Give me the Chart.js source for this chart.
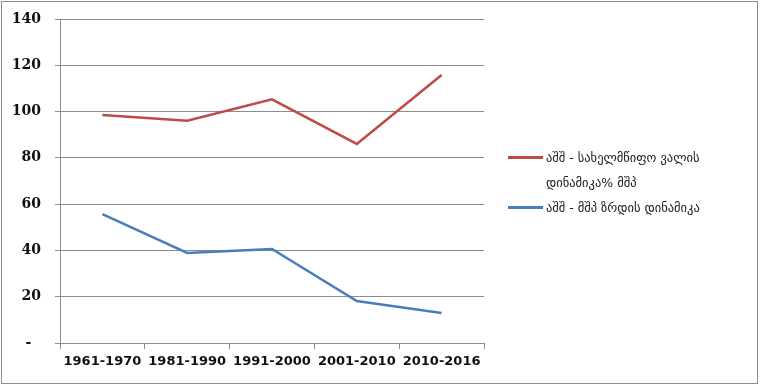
<!DOCTYPE html>
<html>
<head>
<meta charset="utf-8">
<script src="https://cdn.jsdelivr.net/npm/chart.js@4"></script>
<style>
  html, body { margin: 0; padding: 0; background: #fff; }
  #wrap { position: relative; width: 760px; height: 386px; }
  #frame { position: absolute; left: 1px; top: 1px; width: 755px; height: 381px; border: 1px solid #8c8c8c; pointer-events: none; }
  .legend { position: absolute; left: 508px; font-family: 'DejaVu Sans', sans-serif; font-size: 12.5px; color: #222; }
  .legend .row { position: relative; padding-left: 38px; line-height: 25px; }
  .legend .swatch { position: absolute; left: 0; top: 11px; width: 35px; height: 3px; }
</style>
</head>
<body>
<div id="wrap">
  <canvas id="chart"></canvas>
  <div id="frame"></div>
  <div class="legend" id="legend" style="top:145px"></div>
</div>
<script>
const categories = ['1961-1970', '1981-1990', '1991-2000', '2001-2010', '2010-2016'];
const debtSeries = [98.5, 96, 105.3, 86, 115.8];
const gdpSeries = [55.7, 38.9, 40.6, 18.1, 13];
const seriesNames = [['აშშ - სახელმწიფო ვალის', 'დინამიკა% მშპ'], ['აშშ - მშპ ზრდის დინამიკა']];
const seriesColors = ['#be4b48', '#4a7ebb'];

function buildLegend() {
    const box = document.getElementById('legend');
    seriesNames.forEach((lines, i) => {
        const row = document.createElement('div');
        row.className = 'row';
        row.innerHTML = `<span class="swatch" style="background:${seriesColors[i]}"></span>` + lines.join('<br>');
        box.appendChild(row);
    });
}

function initChart() {
    const el = document.getElementById('chart');
    new Chart(el, {
        type: 'line',
        data: {
            labels: categories,
            datasets: [
                { label: seriesNames[0].join(' '), data: debtSeries, borderColor: seriesColors[0], borderWidth: 2.5, pointRadius: 0, tension: 0 },
                { label: seriesNames[1].join(' '), data: gdpSeries, borderColor: seriesColors[1], borderWidth: 2.5, pointRadius: 0, tension: 0 },
            ],
        },
        options: {
            responsive: true,
            maintainAspectRatio: false,
            animation: false,
            layout: { padding: { left: 0, right: 276, top: 19, bottom: 0 } },
            plugins: { legend: { display: false }, tooltip: { enabled: false } },
            scales: {
                x: {
                    offset: true,
                    grid: { offset: true, drawOnChartArea: false, color: '#8c8c8c', tickLength: 6 },
                    border: { color: '#8c8c8c' },
                    ticks: { color: '#111', padding: 5, maxRotation: 0, font: { family: 'DejaVu Sans', weight: 'bold', size: 13 } },
                    afterFit: (scale) => { scale.height = 43; },
                },
                y: {
                    min: 0,
                    max: 140,
                    ticks: {
                        stepSize: 20,
                        color: '#111',
                        padding: 14,
                        font: { family: 'DejaVu Serif', weight: 'bold', size: 14 },
                        callback: (v) => (v === 0 ? '-  ' : v),
                    },
                    grid: { color: '#8c8c8c', tickLength: 5 },
                    border: { color: '#8c8c8c' },
                    afterFit: (scale) => {
                        scale.width = 60;
                        scale.paddingTop = 0;
                        scale.paddingBottom = 0;
                    },
                },
            },
        },
    });
}

buildLegend();
initChart();
</script>
</body>
</html>
